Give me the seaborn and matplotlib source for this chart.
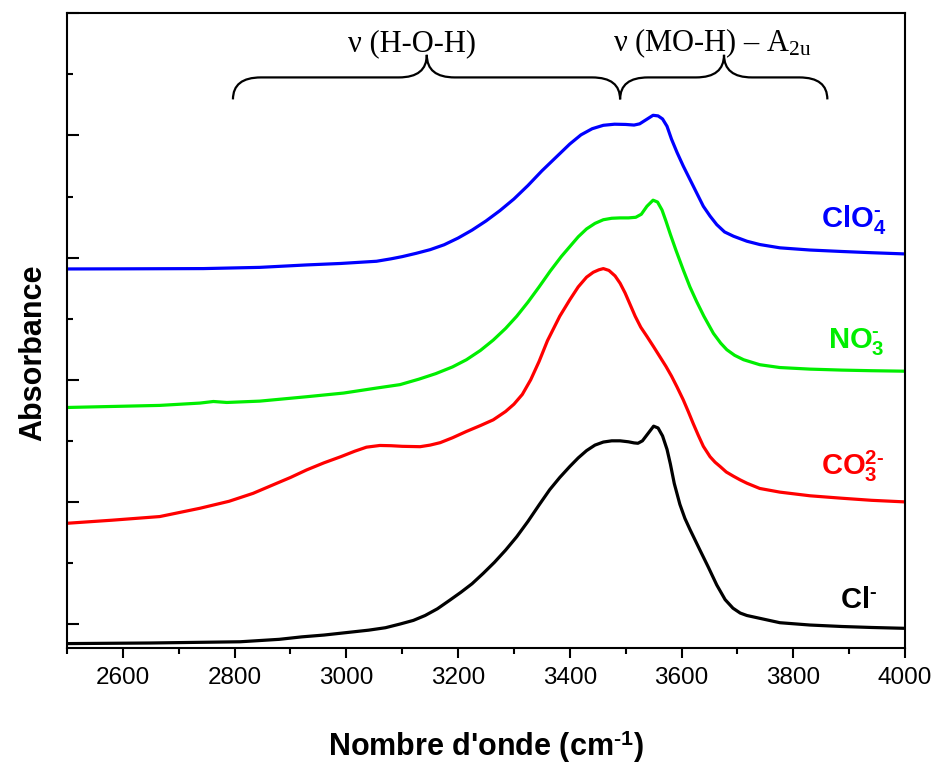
import numpy as np
import pandas as pd
import matplotlib
matplotlib.use("Agg")
import matplotlib.pyplot as plt
import seaborn as sns
from matplotlib.path import Path
from matplotlib.patches import PathPatch
from matplotlib.ticker import MultipleLocator

# spectra (wavenumber cm-1, absorbance offset units)
cl_x = [2500, 2650, 2810, 2880, 2920, 2960, 3000, 3040, 3070, 3096, 3120, 3141, 3163, 3185,
        3205, 3225, 3245, 3265, 3285, 3305, 3325, 3345, 3364, 3382, 3400, 3415, 3430, 3445,
        3460, 3475, 3490, 3505, 3515, 3522, 3530, 3540, 3550, 3558, 3566, 3574, 3580, 3587,
        3597, 3606, 3615, 3624, 3633, 3648, 3663, 3678, 3692, 3705, 3717, 3740, 3776, 3830,
        3887, 3940, 4000]
cl_y = [-0.16, -0.155, -0.145, -0.125, -0.105, -0.09, -0.07, -0.05, -0.03, 0.00, 0.03, 0.07, 0.125, 0.195,
        0.26, 0.33, 0.415, 0.505, 0.605, 0.715, 0.84, 0.975, 1.10, 1.20, 1.29, 1.36, 1.42, 1.465,
        1.49, 1.50, 1.50, 1.492, 1.483, 1.48, 1.50, 1.56, 1.62, 1.605, 1.54, 1.43, 1.31, 1.15,
        0.98, 0.865, 0.775, 0.69, 0.605, 0.465, 0.32, 0.20, 0.13, 0.09, 0.07, 0.047, 0.011, -0.008,
        -0.02, -0.028, -0.035]

co3_x = [2500, 2580, 2666, 2738, 2790, 2833, 2869, 2900, 2929, 2960, 2990, 3015, 3036, 3060,
         3080, 3100, 3132, 3150, 3168, 3190, 3215, 3240, 3263, 3285, 3300, 3315, 3330, 3345,
         3360, 3382, 3400, 3415, 3430, 3442, 3452, 3460, 3470, 3481, 3490, 3499, 3508, 3517,
         3527, 3538, 3550, 3561, 3572, 3582, 3592, 3603, 3612, 3621, 3630, 3639, 3651, 3660,
         3669, 3680, 3693, 3705, 3717, 3740, 3776, 3830, 3887, 3940, 4000]
co3_y = [0.825, 0.85, 0.88, 0.948, 1.005, 1.07, 1.14, 1.20, 1.262, 1.32, 1.37, 1.415, 1.448, 1.462,
         1.46, 1.455, 1.452, 1.465, 1.485, 1.525, 1.577, 1.625, 1.672, 1.74, 1.80, 1.88, 2.00, 2.15,
         2.32, 2.52, 2.655, 2.76, 2.84, 2.88, 2.90, 2.91, 2.895, 2.85, 2.79, 2.71, 2.615, 2.52,
         2.43, 2.355, 2.27, 2.19, 2.11, 2.03, 1.94, 1.836, 1.74, 1.64, 1.545, 1.455, 1.37, 1.325,
         1.29, 1.245, 1.21, 1.18, 1.153, 1.11, 1.08, 1.05, 1.03, 1.013, 1.00]

no3_x = [2500, 2666, 2738, 2762, 2786, 2845, 2929, 2995, 3054, 3096, 3130, 3160, 3190, 3215,
         3240, 3263, 3285, 3305, 3325, 3345, 3365, 3385, 3400, 3415, 3430, 3445, 3460, 3475,
         3490, 3505, 3518, 3528, 3538, 3549, 3557, 3565, 3572, 3580, 3590, 3603, 3615, 3627,
         3640, 3657, 3670, 3681, 3695, 3711, 3740, 3776, 3830, 3887, 3940, 4000]
no3_y = [1.773, 1.79, 1.809, 1.822, 1.814, 1.825, 1.861, 1.891, 1.932, 1.96, 2.005, 2.05, 2.105, 2.164,
         2.24, 2.325, 2.42, 2.52, 2.635, 2.76, 2.89, 3.01, 3.09, 3.17, 3.235, 3.28, 3.31, 3.322,
         3.325, 3.325, 3.33, 3.355, 3.42, 3.47, 3.455, 3.39, 3.30, 3.19, 3.06, 2.90, 2.76, 2.64,
         2.52, 2.38, 2.30, 2.246, 2.20, 2.164, 2.123, 2.10, 2.087, 2.079, 2.074, 2.07]

clo4_x = [2500, 2600, 2744, 2845, 2929, 2990, 3054, 3080, 3100, 3125, 3150, 3175, 3200, 3225,
          3250, 3275, 3300, 3325, 3350, 3375, 3400, 3420, 3440, 3460, 3480, 3500, 3515, 3525,
          3537, 3549, 3558, 3566, 3574, 3582, 3592, 3603, 3621, 3639, 3651, 3663, 3677, 3693,
          3717, 3740, 3776, 3830, 3887, 3940, 4000]
clo4_y = [2.907, 2.908, 2.91, 2.92, 2.94, 2.952, 2.97, 2.99, 3.008, 3.035, 3.065, 3.105, 3.16, 3.225,
          3.30, 3.385, 3.48, 3.59, 3.71, 3.82, 3.93, 4.005, 4.055, 4.083, 4.092, 4.09, 4.085, 4.095,
          4.13, 4.165, 4.16, 4.135, 4.075, 3.97, 3.86, 3.75, 3.585, 3.42, 3.34, 3.27, 3.21, 3.175,
          3.134, 3.107, 3.08, 3.062, 3.05, 3.04, 3.03]

HY = "\u2010"
series = [
    (cl_x, cl_y, "black", "Cl$^{\\mathbf{" + HY + "}}$", 3884, 0.20),
    (co3_x, co3_y, "#ff0000", "CO$_{\\mathbf{3}}^{\\mathbf{2" + HY + "}}$", 3850, 1.29),
    (no3_x, no3_y, "#00ee00", "NO$_{\\mathbf{3}}^{\\mathbf{" + HY + "}}$", 3862, 2.31),
    (clo4_x, clo4_y, "#0000ff", "ClO$_{\\mathbf{4}}^{\\mathbf{" + HY + "}}$", 3850, 3.31),
]

sns.set_style("ticks")
plt.rcParams["font.family"] = ["Liberation Sans", "DejaVu Sans"]
plt.rcParams["mathtext.fontset"] = "custom"
plt.rcParams["mathtext.rm"] = "Liberation Serif"
plt.rcParams["mathtext.it"] = "Liberation Serif:italic"
plt.rcParams["mathtext.bf"] = "Liberation Sans:bold"
plt.rcParams["mathtext.sf"] = "Liberation Sans"
for k in ["axes.edgecolor", "text.color", "xtick.color", "ytick.color", "axes.labelcolor"]:
    plt.rcParams[k] = "black"

fig = plt.figure(figsize=(9.36, 7.64), dpi=100)
ax = fig.add_axes([0.0716, 0.1512, 0.8953, 0.8314])

for xs, ys, col, lab, lx, ly in series:
    df = pd.DataFrame({"x": xs, "y": ys})
    sns.lineplot(data=df, x="x", y="y", color=col, linewidth=2.3, ax=ax)
    ax.text(lx, ly, lab, color=col, fontsize=21, fontweight="bold", ha="left", va="center")
for ln in ax.lines:
    ln.set_solid_joinstyle("round")


def brace(ax, x0, xt, x1, yb, ym, yt, w):
    # curly bracket drawn with quadratic curves, tip pointing up
    verts = [(x0, yb), (x0, ym), (x0 + w, ym),
             (xt - w, ym),
             (xt, ym), (xt, yt),
             (xt, ym), (xt + w, ym),
             (x1 - w, ym),
             (x1, ym), (x1, yb)]
    codes = [Path.MOVETO, Path.CURVE3, Path.CURVE3,
             Path.LINETO,
             Path.CURVE3, Path.CURVE3,
             Path.CURVE3, Path.CURVE3,
             Path.LINETO,
             Path.CURVE3, Path.CURVE3]
    ax.add_patch(PathPatch(Path(verts, codes), fill=False, lw=1.6, color="black"))


brace(ax, 2797, 3144, 3490, 4.295, 4.475, 4.66, 50)
brace(ax, 3490, 3676, 3861, 4.295, 4.475, 4.66, 50)

ax.text(3118, 4.69, "ν (H-O-H)", fontsize=22, family="Liberation Serif",
        ha="center", va="baseline")
ax.text(3656, 4.69, r"ν (MO-H) – A$_{\mathrm{2u}}$", fontsize=22, family="Liberation Serif",
        ha="center", va="baseline")

ax.set_xlim(2500, 4000)
ax.set_ylim(-0.2, 5.0)
ax.xaxis.set_major_locator(MultipleLocator(200))
ax.xaxis.set_minor_locator(MultipleLocator(100))
ax.yaxis.set_major_locator(MultipleLocator(1))
ax.yaxis.set_minor_locator(MultipleLocator(0.5))
ax.set_xticks([2600, 2800, 3000, 3200, 3400, 3600, 3800, 4000])
ax.tick_params(axis="x", which="major", direction="out", length=7.5, width=1.5,
               labelsize=17.5, pad=5.5)
ax.tick_params(axis="x", which="minor", direction="out", length=4.3, width=1.5)
ax.tick_params(axis="y", which="major", direction="in", length=8.6, width=1.5,
               labelleft=False)
ax.tick_params(axis="y", which="minor", direction="in", length=4.3, width=1.5)
for sp in ax.spines.values():
    sp.set_linewidth(1.5)

ax.set_xlabel("Nombre d'onde (cm$^{\\mathbf{" + HY + "1}}$)", fontsize=22, fontweight="bold")
ax.set_ylabel("Absorbance", fontsize=22, fontweight="bold")
ax.xaxis.set_label_coords(0.5, -0.125)
ax.yaxis.set_label_coords(-0.022, 0.465)

fig.savefig("out.png", dpi=100)
